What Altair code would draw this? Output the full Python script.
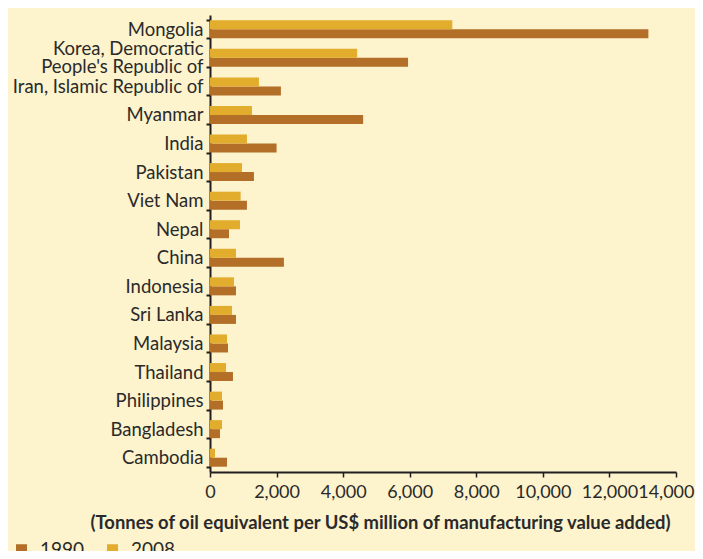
import altair as alt
import pandas as pd

countries = [
    "Mongolia", "Korea, Democratic|People's Republic of", "Iran, Islamic Republic of",
    "Myanmar", "India", "Pakistan", "Viet Nam", "Nepal", "China", "Indonesia",
    "Sri Lanka", "Malaysia", "Thailand", "Philippines", "Bangladesh", "Cambodia",
]
v2008 = [7280, 4420, 1470, 1260, 1110, 960, 920, 900, 780, 720, 660, 510, 480, 360, 360, 150]
v1990 = [13170, 5950, 2130, 4600, 2000, 1320, 1110, 570, 2220, 780, 780, 540, 690, 390, 300, 510]
years = ["1990", "2008"]
colors = ["#B36E28", "#E2AC2C"]
x_ticks = [0, 2000, 4000, 6000, 8000, 10000, 12000, 14000]

rows = []
for c, a, b in zip(countries, v1990, v2008):
    rows.append({"country": c, "year": "1990", "value": a})
    rows.append({"country": c, "year": "2008", "value": b})
df = pd.DataFrame(rows)

FONT = "Lato"
TXT = "#2a2a2a"

chart = alt.Chart(df).mark_bar().encode(
    y=alt.Y(
        "country:N",
        sort=countries,
        scale=alt.Scale(paddingInner=0.37, paddingOuter=0.185),
        axis=alt.Axis(
            title=None,
            labelExpr="split(datum.label, '|')",
            labelFont=FONT, labelFontSize=18.5, labelColor=TXT,
            labelLineHeight=18, labelPadding=3,
            labelOffset={"condition": {"test": "test(/Korea/, datum.value)", "value": -9}, "value": 0},
            tickBand="extent", tickSize=4, tickWidth=2, tickColor="#231F20",
            domainColor="#231F20", domainWidth=2,
            labelLimit=400,
        ),
    ),
    yOffset=alt.YOffset("year:N", sort=["2008", "1990"], scale=alt.Scale(paddingInner=0, paddingOuter=0)),
    x=alt.X(
        "value:Q",
        scale=alt.Scale(domain=[0, 14000], nice=False),
        axis=alt.Axis(
            title="(Tonnes of oil equivalent per US$ million of manufacturing value added)",
            values=x_ticks, format=",d", grid=False,
            labelFont=FONT, labelFontSize=18, labelColor=TXT, labelPadding=6,
            labelAlign={"condition": {"test": "datum.value == 14000", "value": "right"}, "value": "center"},
            labelOffset={"condition": {"test": "datum.value == 14000", "value": 18}, "value": 0},
            tickSize=5, tickWidth=1.5, tickColor="#231F20",
            domainColor="#231F20", domainWidth=2,
            titleFont=FONT, titleFontSize=18.4, titleFontWeight="bold", titleColor=TXT,
            titleX=170, titleY=56, titleAlign="center", titleBaseline="alphabetic",
            labelFlush=False,
        ),
    ),
    color=alt.Color(
        "year:N",
        scale=alt.Scale(domain=years, range=colors),
        legend=alt.Legend(
            title=None, orient="none", direction="horizontal",
            legendX=-198, legendY=525,
            symbolType="square", symbolSize=121, symbolStrokeWidth=0,
            labelFont=FONT, labelFontSize=19, labelColor=TXT, labelOffset=9,
            columnPadding=18,
        ),
    ),
).properties(
    width=466,
    height=457,
    autosize=alt.AutoSizeParams(type="none"),
    padding={"left": 202, "top": 7, "right": 19, "bottom": 79},
    background="#FDF3CD",
).configure_view(stroke=None)

chart.save("out.html", embed_options={"renderer": "svg", "actions": False})
